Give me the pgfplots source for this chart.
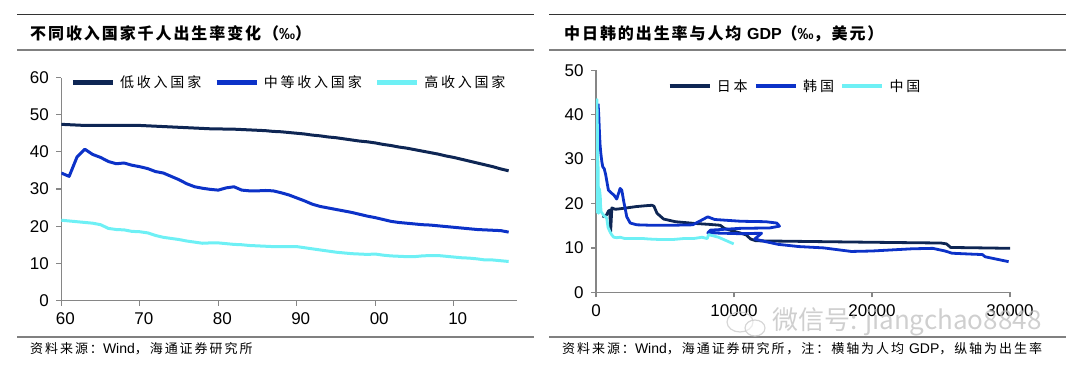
\documentclass[border=0pt]{standalone}
\usepackage{fontspec}
\usepackage{pgfplots}
\pgfplotsset{compat=1.18}
\setmainfont{Liberation Sans}
\newfontfamily\cjk{Noto Sans CJK SC}
\newfontfamily\cjktitle{Noto Sans CJK SC}[LetterSpace=12]
\newfontfamily\cjkleg{Noto Sans CJK SC}[LetterSpace=20]
\newfontfamily\cjksrc{Noto Sans CJK SC}[LetterSpace=15]
\definecolor{cnavy}{RGB}{14,38,84}
\definecolor{cblue}{RGB}{12,50,200}
\definecolor{ccyan}{RGB}{110,240,245}
\definecolor{axgray}{RGB}{134,134,134}
\definecolor{rulegray}{RGB}{128,128,128}
\pgfplotsset{
  mystyle/.style={
    scale only axis, anchor=south west,
    axis lines=left, axis line style={-, draw=axgray, line width=1.2pt},
    tick align=outside, major tick length=5pt,
    tick style={draw=axgray, line width=1.2pt},
    tick label style={font=\fontsize{17}{19}\selectfont},
    yticklabel style={xshift=-4pt},
    /pgf/number format/assume math mode=true,
    /pgf/number format/1000 sep={},
    scaled ticks=false,
    legend style={draw=none, fill=none, inner sep=0pt, outer sep=0pt,
      anchor=west, legend columns=3,
      font=\fontsize{14}{16}\cjkleg,
      nodes={inner sep=0pt},
      /tikz/every odd column/.append style={column sep=5pt},
      /tikz/every even column/.append style={column sep=13pt}},
    legend image code/.code={\draw[line width=4.5pt] (0pt,0pt) -- (40pt,0pt);},
  }
}
\begin{document}
\begin{tikzpicture}
\path[use as bounding box] (0pt,0pt) rectangle (1080pt,368pt);
% rules left
\draw[line width=1pt, black!80] (17pt,353.5pt) -- (534pt,353.5pt);
\draw[line width=1.8pt, rulegray] (17pt,318pt) -- (534pt,318pt);
\draw[line width=1.8pt, rulegray] (17pt,31pt) -- (534pt,31pt);
% rules right
\draw[line width=1pt, black!80] (549pt,353.5pt) -- (1066pt,353.5pt);
\draw[line width=1.8pt, rulegray] (549pt,318pt) -- (1066pt,318pt);
\draw[line width=1.8pt, rulegray] (549pt,31pt) -- (1066pt,31pt);
% titles
\node[anchor=west, inner sep=0pt] at (30pt,334.6pt) {\fontsize{16}{18}\cjktitle\bfseries 不同收入国家千人出生率变化（{\rmfamily\bfseries ‰}）};
\node[anchor=west, inner sep=0pt] at (564pt,334.6pt) {\fontsize{16}{18}\cjktitle\bfseries 中日韩的出生率与人均 {\rmfamily\bfseries GDP}（{\rmfamily\bfseries ‰}，美元）};
% sources
\node[anchor=west, inner sep=0pt] at (30pt,19pt) {\fontsize{13}{15}\cjksrc 资料来源：{\rmfamily\fontsize{14}{16}\selectfont Wind}，海通证券研究所};
\node[anchor=west, inner sep=0pt] at (562pt,19pt) {\fontsize{13}{15}\cjksrc 资料来源：{\rmfamily\fontsize{14}{16}\selectfont Wind}，海通证券研究所，注：横轴为人均 {\rmfamily\fontsize{14}{16}\selectfont GDP}，纵轴为出生率};

\begin{axis}[mystyle,
  at={(61.3pt,67.5pt)}, width=455.2pt, height=223pt,
  xmin=1960, xmax=2018, ymin=0, ymax=60,
  xtick={1960,1970,1980,1990,2000,2010},
  xticklabels={60,70,80,90,00,10},
  ytick={0,10,20,30,40,50,60},
  xticklabel style={xshift=4pt, yshift=-4pt},
  legend style={at={(0.0204,0.977)}},
]
\addplot[cnavy, line width=3pt, line join=round] coordinates {
(1960,47.4)(1961,47.3)(1962,47.2)(1963,47.1)(1964,47.1)(1965,47.1)(1966,47.1)(1967,47.1)(1968,47.1)(1969,47.1)(1970,47.1)(1971,47.0)(1972,46.9)(1973,46.8)(1974,46.7)(1975,46.6)(1976,46.5)(1977,46.4)(1978,46.3)(1979,46.2)(1980,46.2)(1981,46.1)(1982,46.1)(1983,46.0)(1984,45.9)(1985,45.8)(1986,45.7)(1987,45.5)(1988,45.4)(1989,45.2)(1990,45.0)(1991,44.8)(1992,44.5)(1993,44.3)(1994,44.0)(1995,43.8)(1996,43.5)(1997,43.2)(1998,42.9)(1999,42.7)(2000,42.4)(2001,42.0)(2002,41.7)(2003,41.3)(2004,41.0)(2005,40.6)(2006,40.2)(2007,39.8)(2008,39.4)(2009,38.9)(2010,38.5)(2011,38.0)(2012,37.5)(2013,37.0)(2014,36.5)(2015,36.0)(2016,35.4)(2017,34.9)};
\addlegendentry{低收入国家}
\addplot[cblue, line width=3pt, line join=round] coordinates {
(1960,34.3)(1961,33.4)(1962,38.6)(1963,40.7)(1964,39.3)(1965,38.5)(1966,37.4)(1967,36.8)(1968,37.0)(1969,36.4)(1970,36.0)(1971,35.5)(1972,34.7)(1973,34.3)(1974,33.4)(1975,32.5)(1976,31.4)(1977,30.6)(1978,30.2)(1979,29.9)(1980,29.7)(1981,30.3)(1982,30.6)(1983,29.7)(1984,29.5)(1985,29.5)(1986,29.6)(1987,29.5)(1988,29.0)(1989,28.4)(1990,27.6)(1991,26.8)(1992,25.9)(1993,25.3)(1994,24.9)(1995,24.5)(1996,24.1)(1997,23.7)(1998,23.2)(1999,22.7)(2000,22.3)(2001,21.8)(2002,21.3)(2003,21.0)(2004,20.8)(2005,20.6)(2006,20.4)(2007,20.3)(2008,20.1)(2009,19.9)(2010,19.7)(2011,19.5)(2012,19.3)(2013,19.1)(2014,19.0)(2015,18.9)(2016,18.8)(2017,18.4)};
\addlegendentry{中等收入国家}
\addplot[ccyan, line width=3pt, line join=round] coordinates {
(1960,21.6)(1961,21.4)(1962,21.2)(1963,21.0)(1964,20.8)(1965,20.4)(1966,19.4)(1967,19.1)(1968,19.0)(1969,18.6)(1970,18.5)(1971,18.2)(1972,17.5)(1973,17.0)(1974,16.7)(1975,16.4)(1976,16.0)(1977,15.7)(1978,15.4)(1979,15.5)(1980,15.5)(1981,15.3)(1982,15.1)(1983,15.0)(1984,14.8)(1985,14.7)(1986,14.6)(1987,14.5)(1988,14.5)(1989,14.5)(1990,14.5)(1991,14.2)(1992,13.9)(1993,13.6)(1994,13.3)(1995,13.0)(1996,12.8)(1997,12.6)(1998,12.5)(1999,12.4)(2000,12.5)(2001,12.2)(2002,12.0)(2003,11.9)(2004,11.8)(2005,11.8)(2006,12.0)(2007,12.1)(2008,12.1)(2009,11.9)(2010,11.7)(2011,11.5)(2012,11.4)(2013,11.2)(2014,10.9)(2015,10.9)(2016,10.7)(2017,10.5)};
\addlegendentry{高收入国家}
\end{axis}

\begin{axis}[mystyle,
  at={(596pt,75.7pt)}, width=414pt, height=222pt,
  xmin=0, xmax=30000, ymin=0, ymax=50,
  xtick={0,10000,20000,30000},
  ytick={0,10,20,30,40,50},
  xticklabel style={yshift=-4pt},
  legend style={at={(0.1725,0.929)},
    /tikz/every even column/.append style={column sep=6pt}},
]
\addplot[cnavy, line width=2.8pt, line join=round] coordinates {
(480,17.2)(600,17.0)(760,17.4)(900,18.3)(1000,18.5)(1060,13.7)(1150,19.0)(1400,18.7)(1700,18.8)(2200,19.0)(2900,19.3)(3600,19.5)(4050,19.6)(4200,19.4)(4420,17.8)(4900,16.5)(5750,15.9)(7200,15.5)(8200,15.3)(9000,15.1)(9300,14.4)(9700,14.0)(10400,13.4)(10900,12.9)(11200,12.0)(11600,11.6)(14000,11.5)(19200,11.3)(22000,11.2)(25000,11.1)(25400,10.9)(25700,10.1)(28000,10.0)(30100,9.9)};
\addlegendentry{日本}
\addplot[cblue, line width=2.8pt, line join=round] coordinates {
(150,42.5)(200,40.0)(250,36.0)(300,33.0)(350,31.3)(420,29.5)(485,28.3)(600,27.8)(700,26.5)(900,23.0)(1140,22.3)(1300,21.9)(1500,21.0)(1750,23.4)(1870,23.0)(1990,20.8)(2230,17.0)(2480,15.6)(2960,15.2)(4000,15.1)(5500,15.1)(7000,15.2)(7500,16.0)(8100,17.0)(8600,16.4)(10500,16.0)(12300,15.9)(13100,15.6)(13300,14.9)(12600,14.5)(10400,14.4)(8300,14.0)(8100,13.4)(10400,13.2)(12000,13.3)(11500,12.0)(12300,11.4)(13200,10.8)(14700,10.3)(16500,10.0)(18500,9.2)(20000,9.3)(22900,9.8)(24400,9.9)(25300,9.3)(25800,8.8)(27200,8.6)(28000,8.5)(28200,8.0)(29900,6.9)};
\addlegendentry{韩国}
\addplot[ccyan, line width=2.8pt, line join=round] coordinates {
(90,20.9)(76,18.0)(70,37.0)(74,43.4)(85,39.1)(98,37.9)(104,35.1)(96,34.0)(91,35.6)(100,34.1)(113,33.4)(118,30.7)(131,29.8)(157,27.9)(160,24.8)(178,23.0)(165,19.9)(185,18.9)(156,18.3)(183,17.8)(195,18.2)(197,20.9)(203,22.3)(225,20.2)(250,19.9)(294,21.0)(281,22.4)(251,23.3)(283,22.4)(310,21.6)(317,21.1)(333,19.7)(366,18.2)(377,18.1)(473,17.7)(610,17.1)(709,17.0)(782,16.6)(829,15.6)(873,14.6)(959,14.0)(1053,13.4)(1149,12.9)(1289,12.4)(1509,12.3)(1753,12.4)(2099,12.1)(2694,12.1)(3468,12.1)(3832,12.0)(4550,11.9)(5618,11.9)(6317,12.1)(7051,12.1)(7679,12.4)(8067,12.1)(8148,13.0)(8879,12.4)(9977,10.9)};
\addlegendentry{中国}
\end{axis}
% watermark
\draw[gray!40, line width=1.2pt, opacity=0.8] (740pt,46pt) ellipse (13pt and 10pt);
\draw[gray!40, line width=1.2pt, opacity=0.8, fill=white, fill opacity=0.5] (755pt,40pt) ellipse (10pt and 8pt);
\node[anchor=west, inner sep=0pt, text=gray!50, opacity=0.75] at (772pt,46pt) {\fontsize{26}{28}\cjk 微信号: jiangchao8848};
\end{tikzpicture}
\end{document}
